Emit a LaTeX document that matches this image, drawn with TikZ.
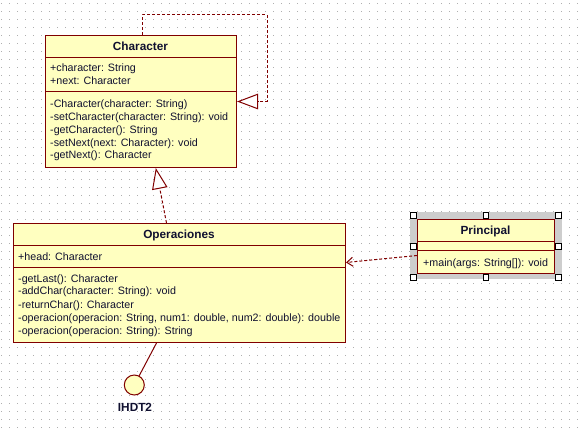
\documentclass[tikz,border=0pt]{standalone}
\usepackage{fontspec}
\setmainfont{Liberation Sans}
\usetikzlibrary{arrows.meta}
\definecolor{umlred}{RGB}{128,0,0}
\definecolor{umlfill}{RGB}{255,255,192}
\definecolor{umltext}{RGB}{16,16,48}
\definecolor{griddot}{RGB}{175,175,175}
\definecolor{hatchgray}{RGB}{205,205,205}
\tikzset{
  classbox/.style={draw=umlred, fill=umlfill, line width=1pt, inner sep=0pt, anchor=north west},
  sepline/.style={draw=umlred, line width=1pt},
  mtext/.style={anchor=base west, inner sep=0pt, font=\fontsize{10.7}{12}\selectfont, text=umltext},
  ttext/.style={anchor=base, inner sep=0pt, font=\fontsize{11.8}{13}\selectfont\bfseries, text=umltext},
  depline/.style={draw=umlred, line width=1pt, dash pattern=on 3pt off 2pt},
  realtip/.style={-{Triangle[length=21pt,width=15.5pt,fill=white,line width=1pt]}},
  deptip/.style={-{Straight Barb[length=6pt,width=9pt,line width=1pt]}},
  iface/.style={circle, draw=umlred, fill=umlfill, line width=1pt, minimum size=20pt, inner sep=0pt},
  assocline/.style={draw=umlred, line width=1pt},
  handle/.style={draw=black, fill=white, line width=0.8pt, minimum size=5.5pt, inner sep=0pt}
}
\begin{document}
\begin{tikzpicture}[x=1pt,y=-1pt]
\useasboundingbox (0,0) rectangle (585,430);
\fill[white] (0,0) rectangle (585,430);
% grid dots
\foreach \i in {0,...,72}{
  \foreach \j in {0,...,53}{
    \fill[griddot] ({1.2+8*\i},{2.8+8*\j}) rectangle ++(1,1);
  }
}

% ---------- Character ----------
\node[classbox, minimum width=191pt, minimum height=132pt] (char) at (45,35) {};
\draw[sepline] (45,58) -- (236,58);
\draw[sepline] (45,92) -- (236,92);
\node[ttext] (chart) at (140.5,50.5) {Character};
\node[mtext] (chara1) at (50,72) {+character: String};
\node[mtext] (chara2) at (50,85) {+next: Character};
\node[mtext] (charm1) at (50,107.3) {-Character(character: String)};
\node[mtext] (charm2) at (50,120.5) {-setCharacter(character: String): void};
\node[mtext] (charm3) at (50,133.3) {-getCharacter(): String};
\node[mtext] (charm4) at (50,146.3) {-setNext(next: Character): void};
\node[mtext] (charm5) at (50,159) {-getNext(): Character};

% ---------- Operaciones ----------
\node[classbox, minimum width=332pt, minimum height=119pt] (opr) at (13,223) {};
\draw[sepline] (13,245) -- (345,245);
\draw[sepline] (13,267) -- (345,267);
\node[ttext] (oprt) at (179,238.5) {Operaciones};
\node[mtext] (opra1) at (18,260) {+head: Character};
\node[mtext] (oprm1) at (18,282.3) {-getLast(): Character};
\node[mtext] (oprm2) at (18,294.8) {-addChar(character: String): void};
\node[mtext] (oprm3) at (18,308.3) {-returnChar(): Character};
\node[mtext] (oprm4) at (18,321.3) {-operacion(operacion: String, num1: double, num2: double): double};
\node[mtext] (oprm5) at (18,334) {-operacion(operacion: String): String};

% ---------- Principal (selected) ----------
\fill[hatchgray] (410,212) rectangle (561.5,279);
\node[classbox, minimum width=137pt, minimum height=54pt] (prin) at (417,219) {};
\draw[sepline] (417,241.7) -- (554,241.7);
\draw[sepline] (417,250) -- (554,250);
\node[ttext] (print) at (485.5,234.5) {Principal};
\node[mtext] (prinm1) at (423,266) {+main(args: String[]): void};
\node[handle] (h1) at (413.3,215.3) {};
\node[handle] (h2) at (486,215.3) {};
\node[handle] (h3) at (558.5,215.3) {};
\node[handle] (h4) at (413.3,246.3) {};
\node[handle] (h5) at (558.5,246.3) {};
\node[handle] (h6) at (413.3,277.3) {};
\node[handle] (h7) at (486,277.3) {};
\node[handle] (h8) at (558.5,277.3) {};

% ---------- interface ----------
\node[iface] (ihdt) at (134.3,385) {};
\node[ttext] (ihdtl) at (135,411.5) {IHDT2};

% ---------- connectors ----------
\draw[depline, realtip] ([xshift=1.2pt]char.north) |- (267,15) |- (char.east);
\draw[depline, realtip] ([xshift=-13pt]opr.north) -- ([xshift=14.8pt]char.south);
\draw[depline, deptip] ([yshift=-9pt]prin.west) -- ([yshift=20.5pt]opr.east);
\draw[assocline] ([xshift=-23pt]opr.south) -- (ihdt);
\end{tikzpicture}
\end{document}
